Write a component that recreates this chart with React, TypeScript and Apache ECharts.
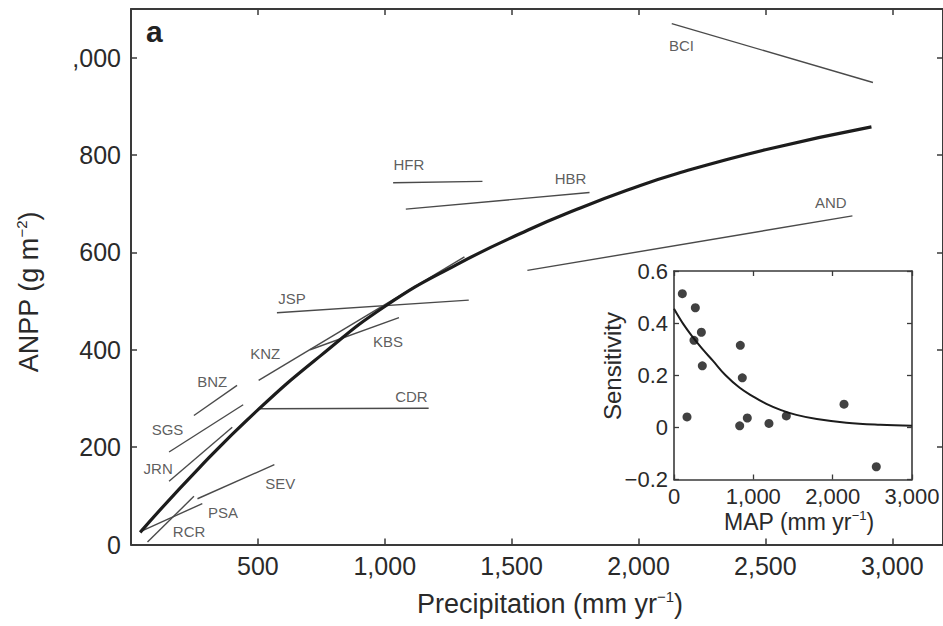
import React, { useEffect, useRef } from "react";
import * as echarts from "echarts";

// Main panel: fitted curve (precipitation mm/yr vs ANPP g/m2)
const curveX = [36, 270, 503, 750, 1003, 1280, 1565, 1760, 1957, 2153, 2500, 2918];
const curveY = [25, 158, 278, 389, 490, 574, 646, 689, 728, 762, 811, 858];

// Site-level regressions (start / end points) and label positions
const siteNames = ["RCR", "PSA", "SEV", "JRN", "SGS", "BNZ", "KNZ", "KBS", "JSP", "CDR", "HFR", "HBR", "AND", "BCI"];
const siteStart = [[65, 5], [39, 27], [262, 94], [150, 130], [150, 190], [248, 265], [503, 337], [706, 400], [575, 476], [507, 279], [1033, 743], [1083, 689], [1562, 563], [2131, 1070]];
const siteEnd = [[248, 99], [281, 84], [565, 164], [399, 241], [442, 287], [418, 327], [1314, 591], [1056, 466], [1331, 502], [1173, 280], [1385, 746], [1807, 723], [2843, 675], [2924, 949]];
const siteLabelAt = [[229, 27], [363, 66], [588, 125], [107, 157], [144, 236], [320, 334], [529, 393], [1013, 417], [634, 506], [1105, 304], [1095, 781], [1732, 752], [2758, 703], [2169, 1024]];

// Main axis tick labels
const yTickValues = [0, 200, 400, 600, 800, 1000];
const yTickLabels = ["0", "200", "400", "600", "800", ",000"];
const xTickValues = [500, 1000, 1500, 2000, 2500, 3000];
const xTickLabels = ["500", "1,000", "1,500", "2,000", "2,500", "3,000"];

// Inset: sensitivity vs MAP
const mapX = [105, 164, 269, 252, 345, 357, 836, 861, 828, 924, 1197, 1416, 2143, 2550];
const sens = [0.513, 0.04, 0.459, 0.334, 0.365, 0.236, 0.315, 0.19, 0.006, 0.036, 0.015, 0.044, 0.089, -0.151];
const fitX = [0, 120, 240, 360, 492, 650, 828, 1000, 1164, 1350, 1542, 1800, 2172, 2600, 3000];
const fitY = [0.455, 0.395, 0.345, 0.3, 0.255, 0.2, 0.152, 0.118, 0.09, 0.066, 0.048, 0.032, 0.018, 0.01, 0.006];
const insetXLabels = ["0", "1,000", "2,000", "3,000"];
const insetYLabels = ["\u22120.2", "0", "0.2", "0.4", "0.6"];

const FONT = "Liberation Sans, Arial, Helvetica, sans-serif";
const AX = "#3a3a3a";
const TXT = "#2a2a2a";

export default function App() {
  const ref = useRef<HTMLDivElement>(null);
  useEffect(() => {
    if (!ref.current) return;
    const chart = echarts.init(ref.current, null, { renderer: "svg" });

    const siteSeries = siteNames.map((n, i) => ({
      type: "line",
      name: n,
      xAxisIndex: 0,
      yAxisIndex: 0,
      data: [siteStart[i], siteEnd[i]],
      showSymbol: false,
      lineStyle: { color: "#4a4a4a", width: 1.4 },
      z: 3,
    }));

    const mainAxisCommon = {
      type: "value",
      splitLine: { show: false },
      axisLine: { show: true, onZero: false, lineStyle: { color: AX, width: 2 } },
      axisTick: { show: true, inside: true, length: 6, lineStyle: { color: AX, width: 1.5 } },
    };

    const insetAxisCommon = {
      type: "value",
      splitLine: { show: false },
      axisLine: { show: true, onZero: false, lineStyle: { color: AX, width: 1.6 } },
      axisTick: { show: true, inside: true, length: 5, lineStyle: { color: AX, width: 1.3 } },
    };

    const option: any = {
      animation: false,
      backgroundColor: "#ffffff",
      textStyle: { fontFamily: FONT },
      grid: [
        { left: 131, top: 9, right: -4, bottom: 81.5 },
        { left: 674, top: 271, width: 238, height: 208.5 },
      ],
      xAxis: [
        {
          ...mainAxisCommon,
          gridIndex: 0,
          position: "bottom",
          min: 0,
          max: 3200,
          interval: 500,
          axisLabel: {
            show: true,
            margin: 9,
            fontSize: 25,
            color: TXT,
            fontFamily: FONT,
            showMinLabel: false,
            showMaxLabel: false,
            formatter: (v: number) => {
              const i = xTickValues.indexOf(v);
              return i >= 0 ? xTickLabels[i] : "";
            },
          },
        },
        {
          ...mainAxisCommon,
          gridIndex: 0,
          position: "top",
          min: 0,
          max: 3200,
          interval: 500,
          axisLabel: { show: false },
        },
        {
          ...insetAxisCommon,
          gridIndex: 1,
          position: "bottom",
          min: 0,
          max: 3000,
          interval: 1000,
          axisLabel: {
            show: true,
            margin: 6,
            fontSize: 22,
            color: TXT,
            fontFamily: FONT,
            formatter: (v: number) => insetXLabels[Math.round(v / 1000)] ?? "",
          },
        },
        {
          ...insetAxisCommon,
          gridIndex: 1,
          position: "top",
          min: 0,
          max: 3000,
          interval: 1000,
          axisLabel: { show: false },
        },
      ],
      yAxis: [
        {
          ...mainAxisCommon,
          gridIndex: 0,
          position: "left",
          min: 0,
          max: 1100,
          interval: 200,
          axisLabel: {
            show: true,
            margin: 10,
            fontSize: 25,
            color: TXT,
            fontFamily: FONT,
            showMaxLabel: false,
            formatter: (v: number) => {
              const i = yTickValues.indexOf(v);
              return i >= 0 ? yTickLabels[i] : "";
            },
          },
        },
        {
          ...mainAxisCommon,
          gridIndex: 0,
          position: "right",
          min: 0,
          max: 1100,
          interval: 200,
          axisLabel: { show: false },
        },
        {
          ...insetAxisCommon,
          gridIndex: 1,
          position: "left",
          min: -0.2,
          max: 0.6,
          interval: 0.2,
          axisLabel: {
            show: true,
            margin: 6,
            fontSize: 22,
            color: TXT,
            fontFamily: FONT,
            formatter: (v: number) => insetYLabels[Math.round((v + 0.2) / 0.2)] ?? "",
          },
        },
        {
          ...insetAxisCommon,
          gridIndex: 1,
          position: "right",
          min: -0.2,
          max: 0.6,
          interval: 0.2,
          axisLabel: { show: false },
        },
      ],
      graphic: [
        {
          type: "text",
          x: 146,
          y: 16,
          style: { text: "a", fontSize: 30, fontWeight: "bold", fontFamily: FONT, fill: "#222" },
        },
        {
          type: "text",
          x: 550,
          y: 604,
          style: {
            text: "{a|Precipitation (mm yr}{s|\u22121}{a|)}",
            align: "center",
            verticalAlign: "middle",
            fill: TXT,
            rich: {
              a: { fontSize: 27, fontFamily: FONT, fill: TXT, lineHeight: 30 },
              s: { fontSize: 15, fontFamily: FONT, fill: TXT, verticalAlign: "top", lineHeight: 30 },
            },
          },
        },
        {
          type: "text",
          x: 29,
          y: 292,
          rotation: Math.PI / 2,
          style: {
            text: "{a|ANPP (g m}{s|\u22122}{a|)}",
            align: "center",
            verticalAlign: "middle",
            fill: TXT,
            rich: {
              a: { fontSize: 27, fontFamily: FONT, fill: TXT, lineHeight: 30 },
              s: { fontSize: 15, fontFamily: FONT, fill: TXT, verticalAlign: "top", lineHeight: 30 },
            },
          },
        },
        {
          type: "text",
          x: 799,
          y: 522,
          style: {
            text: "{a|MAP (mm yr}{s|\u22121}{a|)}",
            align: "center",
            verticalAlign: "middle",
            fill: TXT,
            rich: {
              a: { fontSize: 23, fontFamily: FONT, fill: TXT, lineHeight: 26 },
              s: { fontSize: 13, fontFamily: FONT, fill: TXT, verticalAlign: "top", lineHeight: 26 },
            },
          },
        },
        {
          type: "text",
          x: 612,
          y: 366,
          rotation: Math.PI / 2,
          style: {
            text: "Sensitivity",
            fontSize: 24,
            fontFamily: FONT,
            fill: TXT,
            align: "center",
            verticalAlign: "middle",
          },
        },
      ],
      series: [
        {
          type: "line",
          name: "fit",
          xAxisIndex: 0,
          yAxisIndex: 0,
          data: curveX.map((x, i) => [x, curveY[i]]),
          smooth: 0.5,
          showSymbol: false,
          lineStyle: { color: "#1c1c1c", width: 3.2 },
          z: 4,
        },
        ...siteSeries,
        {
          type: "scatter",
          name: "labels",
          xAxisIndex: 0,
          yAxisIndex: 0,
          symbolSize: 0,
          data: siteLabelAt.map((c, i) => ({ name: siteNames[i], value: c })),
          label: {
            show: true,
            position: "inside",
            formatter: (p: any) => p.name,
            fontSize: 15,
            fontFamily: FONT,
            color: "#333",
          },
          z: 5,
        },
        {
          type: "scatter",
          name: "sensitivity",
          xAxisIndex: 2,
          yAxisIndex: 2,
          data: mapX.map((x, i) => [x, sens[i]]),
          symbolSize: 9,
          itemStyle: { color: "#111" },
          z: 6,
        },
        {
          type: "line",
          name: "sensFit",
          xAxisIndex: 2,
          yAxisIndex: 2,
          data: fitX.map((x, i) => [x, fitY[i]]),
          smooth: 0.4,
          showSymbol: false,
          lineStyle: { color: "#1c1c1c", width: 2 },
          z: 5,
        },
      ],
    };

    chart.setOption(option);
    return () => chart.dispose();
  }, []);

  return (
    <div
      ref={ref}
      style={{ position: "fixed", left: 0, top: 0, width: 943, height: 626, background: "#fff" }}
    />
  );
}
